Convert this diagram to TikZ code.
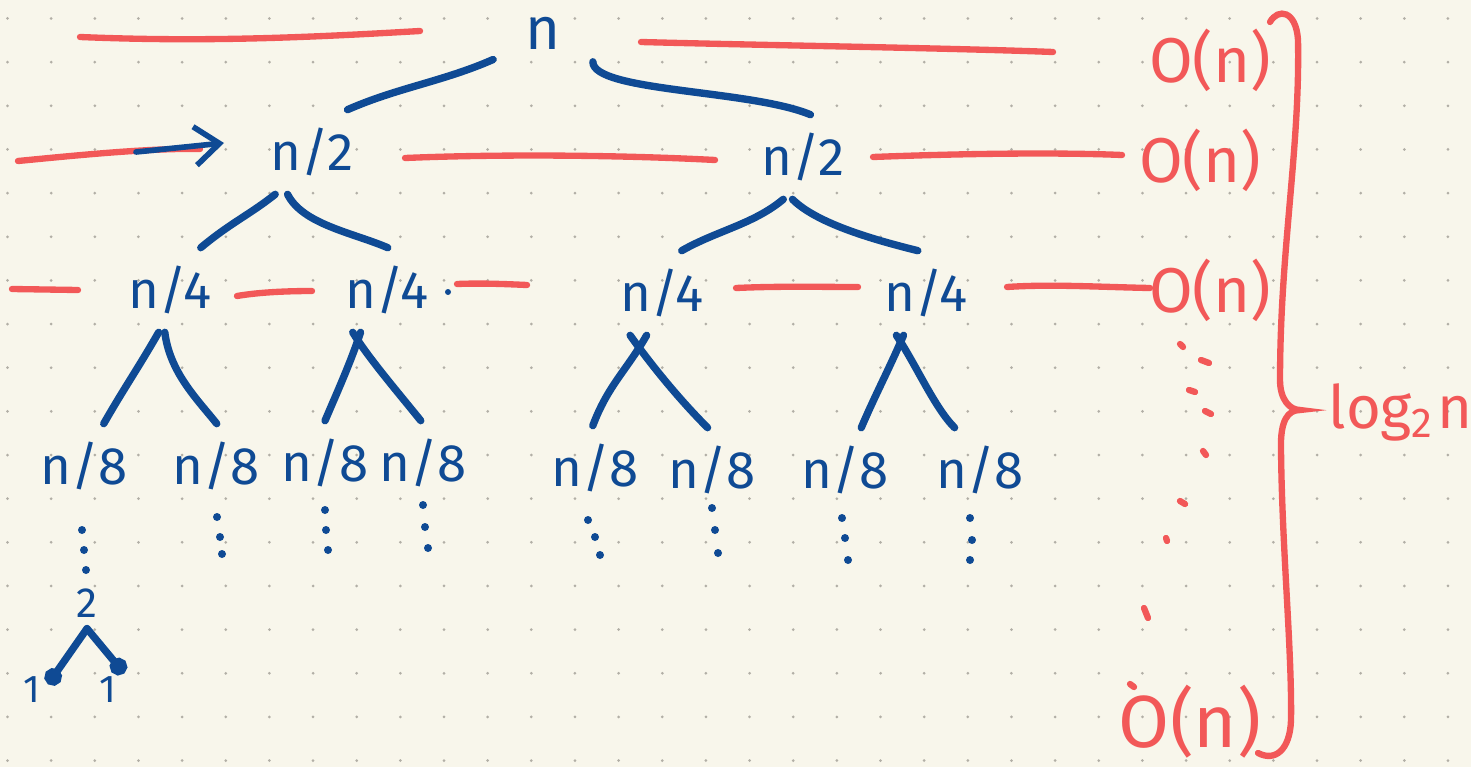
\documentclass[tikz,border=0pt]{standalone}
\usepackage{fontspec}
\setmainfont{Fira Sans}
\usetikzlibrary{arrows.meta}

\definecolor{paper}{HTML}{F8F6EB}
\definecolor{griddot}{HTML}{B2AFA6}
\definecolor{inkblue}{HTML}{0F4A94}
\definecolor{inkred}{HTML}{F25858}

\tikzset{
  edge/.style={draw=inkblue, line width=2.1pt, line cap=round, line join=round},
  level/.style={draw=inkred, line width=1.8pt, line cap=round},
  sub/.style={text=inkblue, font=\fontsize{15}{15}\selectfont, inner sep=5pt},
  cost/.style={text=inkred, font=\fontsize{18}{18}\selectfont, inner sep=2pt},
}

\begin{document}
\begin{tikzpicture}[x=0.01cm, y=-0.01cm]
    \useasboundingbox (0,0) rectangle (1471,767);
    \fill[paper] (0,0) rectangle (1471,767);

    % dotted paper
    \foreach \i in {0,...,33}
        \foreach \j in {0,...,17}
            \fill[griddot] (7.5+43.65*\i, 18.5+43.65*\j) circle (1.5);

    % subproblem sizes
    \node[sub, font=\fontsize{17}{17}\selectfont, inner sep=9pt] (n0) at (543,33) {n};

    \node[sub] (n2a) at (312,152) {n/2};
    \node[sub] (n2b) at (803,157) {n/2};

    \node[sub] (n4a) at (170,290) {n/4};
    \node[sub] (n4b) at (387,290) {n/4};
    \node[sub] (n4c) at (662,293) {n/4};
    \node[sub] (n4d) at (926,293) {n/4};

    \node[sub] (n8a) at (84,466) {n/8};
    \node[sub] (n8b) at (216,466) {n/8};
    \node[sub] (n8c) at (325,463) {n/8};
    \node[sub] (n8d) at (423,463) {n/8};
    \node[sub] (n8e) at (595,468) {n/8};
    \node[sub] (n8f) at (712,470) {n/8};
    \node[sub] (n8g) at (845,470) {n/8};
    \node[sub] (n8h) at (980,470) {n/8};

    \node[sub, font=\fontsize{12}{12}\selectfont, inner sep=3pt] (two) at (87,603) {2};
    \node[sub, font=\fontsize{11}{11}\selectfont, inner sep=2pt] (onea) at (32,690) {1};
    \node[sub, font=\fontsize{11}{11}\selectfont, inner sep=2pt] (oneb) at (108,690) {1};

    % splits
    \draw[edge] (n0.-152) .. controls +(-50,22) and +(50,-22) .. (n2a.50);
    \draw[edge] (n0.-30) .. controls +(0,30) and +(-60,-25) .. (n2b.80);

    \draw[edge] (n2a.-131) .. controls +(-25,20) and +(30,-25) .. (n4a.54);
    \draw[edge] (n2a.-120) .. controls +(15,30) and +(-35,-15) .. (n4b.89);
    \draw[edge] (n2b.-115) .. controls +(-30,25) and +(35,-20) .. (n4c.65);
    \draw[edge] (n2b.-104) .. controls +(25,25) and +(-40,-10) .. (n4d.101);

    \draw[edge] (n4a.-105) .. controls +(-20,35) and +(20,-35) .. (n8a.65);
    \draw[edge] (n4a.-97) .. controls +(5,40) and +(-20,-25) .. (n8b.89);
    \draw[edge] (n4b.-122) .. controls +(-10,30) and +(15,-35) .. (n8c.90);
    \draw[edge] (n4b.-129) .. controls +(15,25) and +(-20,-25) .. (n8d.93);
    \draw[edge] (n4c.-110) .. controls +(-20,35) and +(15,-40) .. (n8e.93);
    \draw[edge] (n4c.-127) .. controls +(25,35) and +(-25,-25) .. (n8f.96);
    \draw[edge] (n4d.-118) .. controls +(-15,35) and +(15,-35) .. (n8g.69);
    \draw[edge] (n4d.-125) .. controls +(20,30) and +(-20,-20) .. (n8h.121);

    \draw[edge, -{Circle[length=5pt]}] (two.south) -- (onea.20);
    \draw[edge, -{Circle[length=5pt]}] (two.south) -- (oneb.46);

    % remaining levels
    \foreach \x/\y in {82/530, 84/550, 86/570, 217/517, 220/537, 222/554,
                       325/510, 326/530, 328/550, 423/505, 425/527, 428/548,
                       588/520, 595/537, 600/555, 712/508, 715/530, 718/553,
                       842/518, 845/538, 848/560, 970/518, 972/540, 970/560}
        \fill[inkblue] (\x,\y) circle (4);
    \fill[inkblue] (448,292) circle (3);

    % work per level
    \draw[level] (80,37) .. controls (200,42) and (300,38) .. (420,31);
    \draw[level] (641,42) .. controls (750,45) and (950,48) .. (1053,52);

    \draw[level] (18,161) .. controls (80,155) and (150,148) .. (200,149);
    \draw[edge, line width=1.6pt, -{Straight Barb[length=7pt, width=11pt]}] (136,152) -- (224,143);
    \draw[level] (405,158) .. controls (500,154) and (620,155) .. (715,160);
    \draw[level] (873,157) .. controls (950,154) and (1050,152) .. (1122,155);

    \draw[level] (12,289) -- (78,290);
    \draw[level] (237,296) .. controls (260,292) and (290,291) .. (312,291);
    \draw[level] (457,284) .. controls (480,283) and (505,284) .. (527,285);
    \draw[level] (736,288) .. controls (780,286) and (820,287) .. (858,287);
    \draw[level] (1007,287) .. controls (1050,284) and (1100,287) .. (1150,288);

    \node[cost] (c0) at (1210,60) {O(n)};
    \node[cost] (c1) at (1200,160) {O(n)};
    \node[cost] (c2) at (1210,290) {O(n)};
    \node[cost, font=\fontsize{21}{21}\selectfont] (c3) at (1190,722) {O(n)};

    % dots down to the last level
    \foreach \x/\y/\dx/\dy in {1180/344/3/3, 1201/360/8/3, 1189/390/6/2, 1205/411/6/3,
                               1203/451/3/4, 1180/501/5/3, 1166/538/1/3, 1144/608/4/10, 1130/684/4/3}
        \draw[level] (\x,\y) -- ++(\dx,\dy);

    % depth of the tree
    \draw[level] (1270,22) .. controls (1278,8) and (1296,10) .. (1298,40)
        .. controls (1300,150) and (1280,250) .. (1280,380)
        .. controls (1280,400) and (1290,410) .. (1300,410)
        .. controls (1288,410) and (1280,420) .. (1281,450)
        .. controls (1282,550) and (1292,650) .. (1291,720)
        .. controls (1290,750) and (1275,762) .. (1258,753);
    \node[cost, font=\fontsize{17}{17}\selectfont, anchor=west, inner sep=0pt] (depth) at (1328,412) {log\textsubscript{2}\kern1pt n};
\end{tikzpicture}
\end{document}
